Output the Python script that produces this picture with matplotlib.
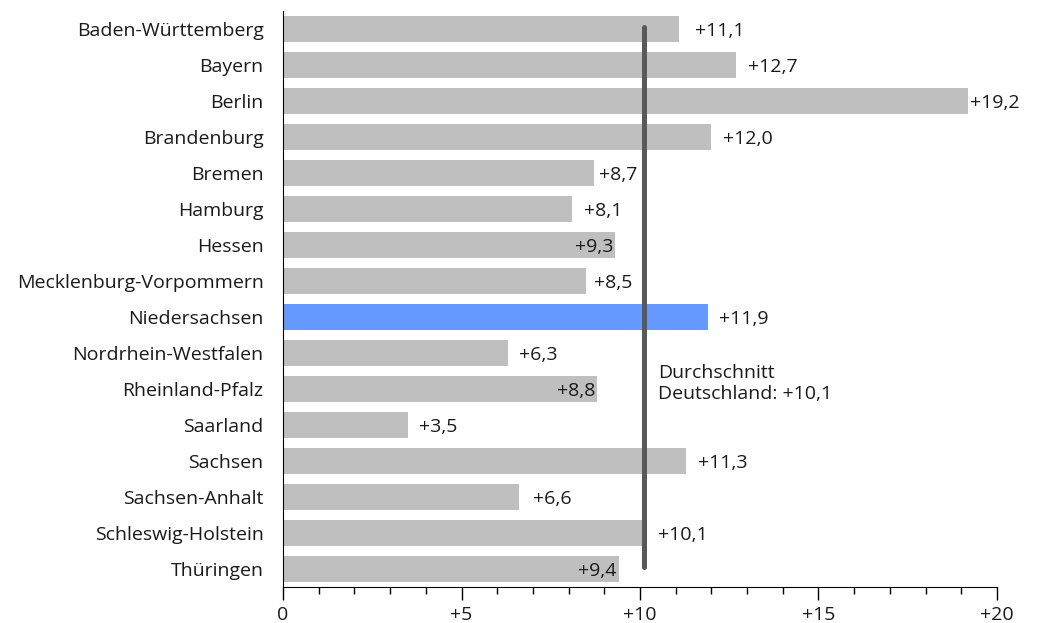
import matplotlib
matplotlib.use("Agg")
import matplotlib.pyplot as plt
from matplotlib.ticker import MultipleLocator, FixedLocator

laender = ["Baden-Württemberg", "Bayern", "Berlin", "Brandenburg", "Bremen", "Hamburg",
           "Hessen", "Mecklenburg-Vorpommern", "Niedersachsen", "Nordrhein-Westfalen",
           "Rheinland-Pfalz", "Saarland", "Sachsen", "Sachsen-Anhalt",
           "Schleswig-Holstein", "Thüringen"]
werte = [11.1, 12.7, 19.2, 12.0, 8.7, 8.1, 9.3, 8.5, 11.9, 6.3, 8.8, 3.5, 11.3, 6.6, 10.1, 9.4]
schnitt = 10.1
highlight = "Niedersachsen"
# labels drawn inside the bar end (they would hit the average line otherwise)
innen = ["Hessen", "Rheinland-Pfalz", "Thüringen"]
# label gaps that differ from the default one
abstand = {"Berlin": 0.03, "Bremen": 0.15, "Mecklenburg-Vorpommern": 0.22,
           "Schleswig-Holstein": 0.4, "Baden-Württemberg": 0.45, "Sachsen-Anhalt": 0.4}

FS = 14
TXT = "#1a1a1a"
plt.rcParams["font.family"] = ["Open Sans", "DejaVu Sans"]
fig = plt.figure(figsize=(10.37, 6.23), dpi=100)
ax = fig.add_axes([283/1037, 1-587/623, 714/1037, 576/623])

cols = ["#6699FF" if l == highlight else "#BFBFBF" for l in laender]
ypos = list(range(len(laender)))
ax.barh(ypos, werte, height=0.72, color=cols, zorder=2)

ax.plot([schnitt, schnitt], [-0.05, 14.95], color="#595959", lw=3.6,
        solid_capstyle="round", zorder=3)
ax.text(10.5, 9.85, "Durchschnitt\nDeutschland: +10,1", fontsize=FS, color=TXT,
        va="center", ha="left", linespacing=1.2)

for y, (l, v) in enumerate(zip(laender, werte)):
    s = f"+{v:.1f}".replace(".", ",")
    if l in innen:
        ax.text(v - 0.05, y, s, ha="right", va="center_baseline", fontsize=FS, color=TXT, zorder=4)
    else:
        ax.text(v + abstand.get(l, 0.32), y, s, ha="left", va="center_baseline", fontsize=FS,
                color=TXT, zorder=4)

ax.set_xlim(0, 20)
ax.set_ylim(15.5, -0.5)
ax.set_yticks(ypos)
ax.set_yticklabels(laender, fontsize=FS, color=TXT)
ax.tick_params(axis="y", length=0, pad=14)
ax.xaxis.set_major_locator(FixedLocator([0, 5, 10, 15, 20]))
ax.xaxis.set_minor_locator(MultipleLocator(1))
ax.set_xticklabels(["0", "+5", "+10", "+15", "+20"], fontsize=FS, color=TXT)
ax.tick_params(axis="x", which="major", length=9, width=1, color="black", pad=5)
ax.tick_params(axis="x", which="minor", length=5, width=1, color="black")
for s in ["top", "right"]:
    ax.spines[s].set_visible(False)
ax.spines["left"].set_color("black")
ax.spines["bottom"].set_color("black")

fig.savefig("out.png", dpi=100)
